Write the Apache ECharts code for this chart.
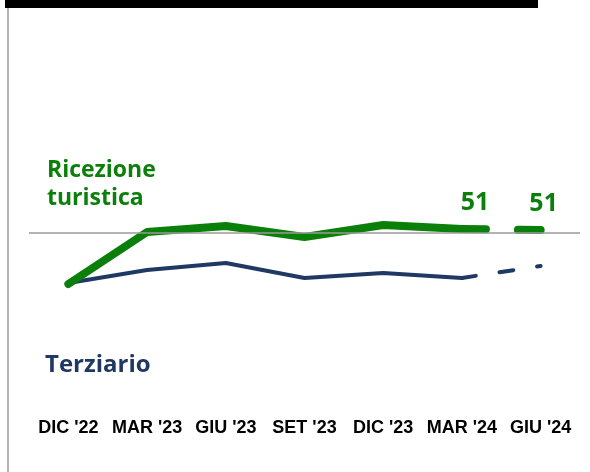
<!DOCTYPE html>
<html>
<head>
<meta charset="utf-8">
<script src="https://cdn.jsdelivr.net/npm/echarts@6/dist/echarts.min.js"></script>
<style>html,body{margin:0;padding:0;background:#fff}#c{width:590px;height:472px}</style>
</head>
<body>
<div id="c"></div>
<script>
const categories = ["DIC '22", "MAR '23", "GIU '23", "SET '23", "DIC '23", "MAR '24", "GIU '24"];
const ricezioneTuristica = [37.25, 50.25, 51.75, 49, 52, 51, 50.75];
const terziario = [37.5, 40.75, 42.5, 38.75, 40, 38.75, 41.75];
const referenceLevel = 50;
const lastActualIndex = 5; // MAR '24: later points are forecasts (dashed)

const GREEN = '#0a7f0a';
const NAVY = '#1f3864';

function solidPart(arr) { return arr.map((v, i) => i <= lastActualIndex ? v : null); }
function dashedPart(arr) { return arr.map((v, i) => i >= lastActualIndex ? v : null); }
function labelledDashed(arr) {
  return dashedPart(arr).map((v, i) => {
    if (v === null) return null;
    const dx = i === lastActualIndex ? 13.5 : 3.5;
    return { value: v, label: { position: [dx, -13], align: 'center', verticalAlign: 'bottom' } };
  });
}

const chart = echarts.init(document.getElementById('c'));
chart.setOption({
  animation: false,
  grid: { left: 29, right: 10, top: 153, height: 160 },
  xAxis: {
    type: 'category', data: categories, boundaryGap: true,
    axisLine: { show: false }, axisTick: { show: false },
    axisLabel: { margin: 106, color: '#000', fontFamily: 'Liberation Sans, Arial, sans-serif', fontWeight: 'bold', fontSize: 18, interval: 0 }
  },
  yAxis: { type: 'value', min: 30, max: 70, show: false, splitLine: { show: false } },
  graphic: [
    { type: 'rect', shape: { x: 5, y: 0, width: 533, height: 8 }, style: { fill: '#000' } },
    { type: 'line', shape: { x1: 8, y1: 8, x2: 8, y2: 472 }, style: { stroke: '#b3b3b3', lineWidth: 2 } },
    { type: 'text', left: 47, top: 156, style: { text: 'Ricezione\nturistica', fill: GREEN, font: 'bold 23px "Open Sans", sans-serif', lineHeight: 28 } },
    { type: 'text', left: 45, top: 353, style: { text: 'Terziario', fill: NAVY, font: 'bold 24px "Open Sans", sans-serif' } }
  ],
  series: [
    {
      type: 'line', data: solidPart(terziario), symbol: 'none', z: 2,
      lineStyle: { color: NAVY, width: 4, cap: 'round', join: 'round' },
      markLine: {
        silent: true, symbol: 'none', label: { show: false },
        lineStyle: { color: '#9a9a9a', width: 1.5, type: 'solid' },
        data: [{ yAxis: referenceLevel }]
      }
    },
    {
      type: 'line', data: dashedPart(terziario), symbol: 'none', z: 2,
      lineStyle: { color: NAVY, width: 4, cap: 'round', type: [14, 24] }
    },
    {
      type: 'line', data: solidPart(ricezioneTuristica), symbol: 'none', z: 3,
      lineStyle: { color: GREEN, width: 8, cap: 'round', join: 'round' }
    },
    {
      type: 'line', data: labelledDashed(ricezioneTuristica), z: 3,
      symbol: 'circle', symbolSize: 1, showSymbol: true,
      itemStyle: { color: 'rgba(0,0,0,0)' },
      lineStyle: { color: GREEN, width: 8, cap: 'round', type: [24, 32] },
      label: {
        show: true, position: 'top', distance: 13, color: GREEN,
        fontFamily: '"Open Sans", sans-serif', fontWeight: 'bold', fontSize: 25,
        formatter: p => String(Math.round(p.value))
      },
      labelLayout: { hideOverlap: false }
    }
  ]
});
</script>
</body>
</html>
